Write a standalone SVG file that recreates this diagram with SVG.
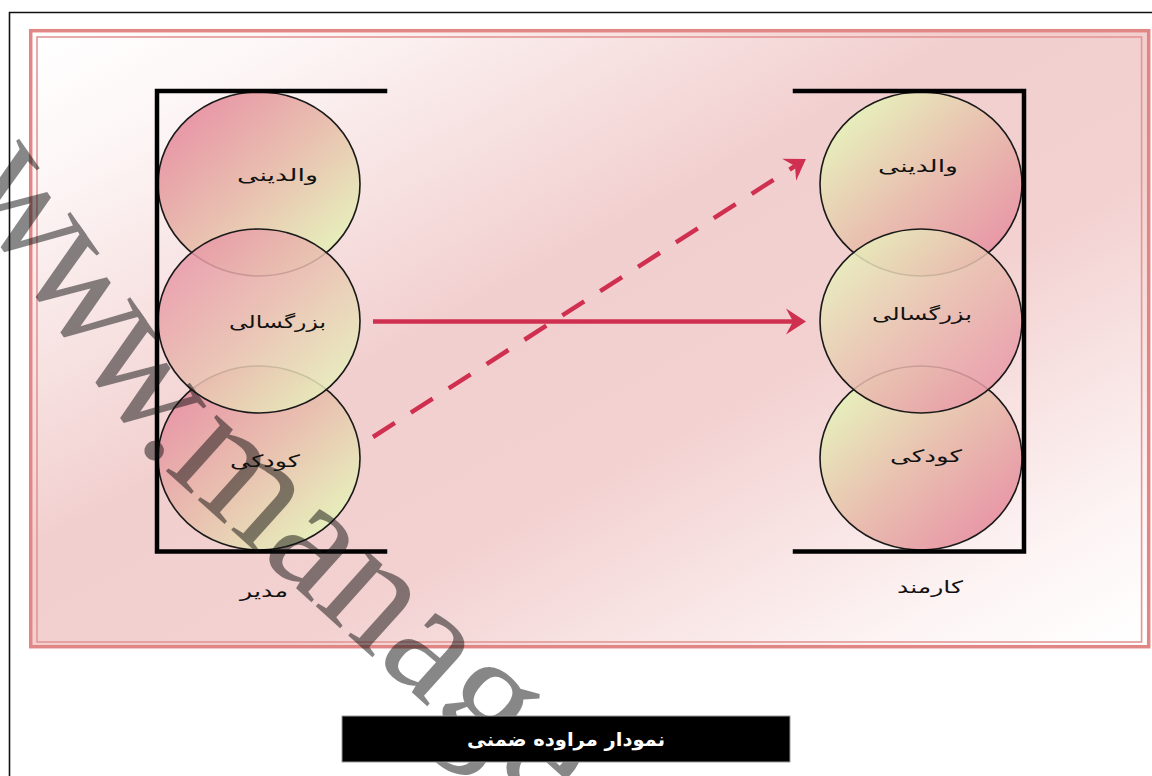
<svg xmlns="http://www.w3.org/2000/svg" width="1152" height="776" viewBox="0 0 1152 776">
<defs>
<linearGradient id="bg" x1="0" y1="0" x2="1" y2="1">
<stop offset="0" stop-color="#ffffff"/>
<stop offset="0.12" stop-color="#fdf6f6"/>
<stop offset="0.42" stop-color="#f2cfcf"/>
<stop offset="0.62" stop-color="#f3d1d1"/>
<stop offset="0.88" stop-color="#fdf4f4"/>
<stop offset="1" stop-color="#ffffff"/>
</linearGradient>
<linearGradient id="cl" x1="0.15" y1="0.15" x2="0.85" y2="0.85">
<stop offset="0" stop-color="#e899a7"/>
<stop offset="0.5" stop-color="#e9c0b0"/>
<stop offset="1" stop-color="#e7edbb"/>
</linearGradient>
<linearGradient id="cr" x1="0.15" y1="0.15" x2="0.85" y2="0.85">
<stop offset="0" stop-color="#e7edbb"/>
<stop offset="0.5" stop-color="#e9c0b0"/>
<stop offset="1" stop-color="#e899a7"/>
</linearGradient>
<marker id="ah" markerUnits="userSpaceOnUse" markerWidth="22" markerHeight="28" refX="7" refY="14" orient="auto" viewBox="0 0 22 28">
<path d="M0,1 L20,14 L0,27 L7,14 Z" fill="#d0304f"/>
</marker>
<path id="wmpath" d="M-43,182 L148,455 L600,862"/>
</defs>
<style>
.frame{fill:none;stroke:#111;stroke-width:1.6}
.brk{fill:none;stroke:#000;stroke-width:4.5;stroke-linecap:square}
.circ{stroke:#1a1a1a;stroke-width:1.6}
.lbl{font-family:"DejaVu Sans",sans-serif;font-size:17px;fill:#111;text-anchor:middle}
.arr{fill:none;stroke:#d0304f;stroke-width:4.5}
.wm{font-family:"Liberation Serif",serif;font-size:165px;fill:#111;opacity:0.5}
</style>
<rect x="0" y="0" width="1152" height="776" fill="#ffffff"/>
<path class="frame" d="M9.5,776 L9.5,12.5 L1152,12.5"/>
<g id="panel">
<rect x="30.7" y="30.7" width="1118" height="616" fill="url(#bg)" stroke="#e08684" stroke-width="3.5"/>
<rect x="37" y="37" width="1104.6" height="605" fill="url(#bg)" stroke="#e39694" stroke-width="1.6"/>
</g>
<g id="manager">
<ellipse class="circ" cx="259" cy="184" rx="101" ry="92" fill="url(#cl)"/>
<ellipse class="circ" cx="259" cy="458" rx="101" ry="92" fill="url(#cl)"/>
<ellipse class="circ" cx="259" cy="321" rx="101" ry="92" fill="url(#cl)" fill-opacity="0.85"/>
<path class="brk" d="M385,91 L157,91 L157,551.5 L385,551.5"/>
</g>
<g id="employee">
<ellipse class="circ" cx="921" cy="184" rx="101" ry="92" fill="url(#cr)"/>
<ellipse class="circ" cx="921" cy="458" rx="101" ry="92" fill="url(#cr)"/>
<ellipse class="circ" cx="921" cy="321" rx="101" ry="92" fill="url(#cr)" fill-opacity="0.85"/>
<path class="brk" d="M795,91 L1024,91 L1024,551.5 L795,551.5"/>
</g>
<g id="connectors">
<line class="arr" x1="373" y1="321.5" x2="793" y2="321.5" marker-end="url(#ah)"/>
<line class="arr" x1="373" y1="437" x2="795" y2="166" stroke-dasharray="26 19" marker-end="url(#ah)"/>
</g>
<text class="wm"><textPath href="#wmpath"><tspan letter-spacing="-15">www</tspan>.manage</textPath></text>
<g id="labels">
<text class="lbl" x="277.5" y="181" textLength="81" lengthAdjust="spacingAndGlyphs">والدینی</text>
<text class="lbl" x="277.5" y="328" textLength="97" lengthAdjust="spacingAndGlyphs">بزرگسالی</text>
<text class="lbl" x="265" y="467" textLength="70" lengthAdjust="spacingAndGlyphs">کودکی</text>
<text class="lbl" x="918" y="172" textLength="80" lengthAdjust="spacingAndGlyphs">والدینی</text>
<text class="lbl" x="922" y="320" textLength="100" lengthAdjust="spacingAndGlyphs">بزرگسالی</text>
<text class="lbl" x="926" y="462" textLength="72" lengthAdjust="spacingAndGlyphs">کودکی</text>
<text class="lbl" x="264" y="597" textLength="48" lengthAdjust="spacingAndGlyphs">مدیر</text>
<text class="lbl" x="930" y="593" textLength="66" lengthAdjust="spacingAndGlyphs">کارمند</text>
</g>
<g id="title">
<rect x="342" y="716" width="448" height="46" fill="#000" stroke="#9a9a9a" stroke-width="1"/>
<text x="566" y="746" font-family="DejaVu Sans, sans-serif" font-size="19" font-weight="bold" fill="#fff" text-anchor="middle" textLength="198" lengthAdjust="spacingAndGlyphs">نمودار مراوده ضمنی</text>
</g>
</svg>
